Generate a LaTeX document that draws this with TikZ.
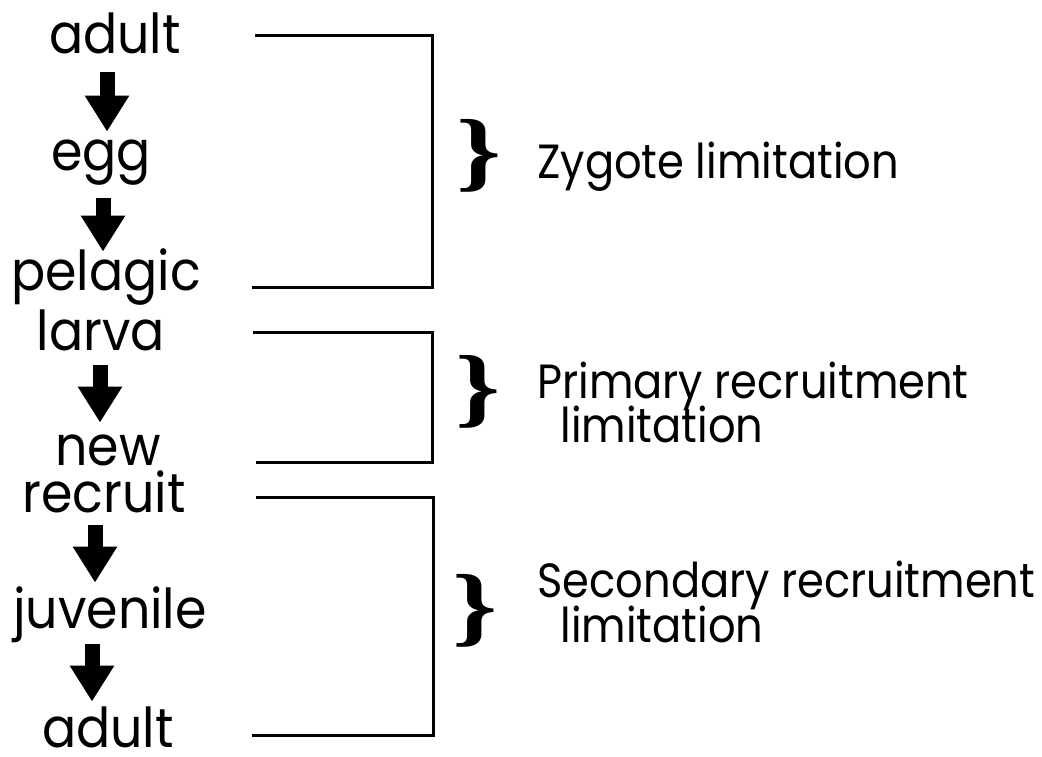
\documentclass[tikz,border=0pt]{standalone}
\usepackage{fontspec}
\setmainfont{Poppins}
\newfontfamily\stagefont[FakeStretch=0.92]{Poppins}
\newfontfamily\causefont[FakeStretch=0.9]{Poppins}
\newfontfamily\bracefont{Liberation Serif}
\usetikzlibrary{arrows.meta}
\tikzset{
  stage/.style={font=\stagefont\fontsize{27.5}{30}\selectfont, inner sep=0pt,
    text height=19pt, text depth=0pt, anchor=base},
  cause/.style={font=\causefont\fontsize{24}{28}\selectfont, inner sep=0pt, anchor=base west},
  curly/.style={font=\bracefont\bfseries\fontsize{44}{44}\selectfont, inner sep=0pt},
  flow/.style={line width=7.5pt, -{Triangle[width=21pt,length=18pt]}},
  span/.style={line width=1.5pt, line cap=butt, line join=miter}
}
\begin{document}
\begin{tikzpicture}[x=0.5pt,y=-0.5pt]
\useasboundingbox (0,0) rectangle (1042,756);

% life-cycle stages
\node[stage] (a1) at (115,53) {adult};
\node[stage] (egg) at (101,170) {egg};
\node[stage] (pel) at (106,290) {pelagic};
\node[stage] (lar) at (101,350) {larva};
\node[stage] (new) at (108,465) {new};
\node[stage] (rec) at (104,512) {recruit};
\node[stage] (juv) at (110,628) {juvenile};
\node[stage] (a2) at (108,747) {adult};

% transitions
\draw[flow, shorten <=9.5pt] (107,0 |- a1.south) -- (107,0 |- egg.north);
\draw[flow, shorten <=14pt] (103,0 |- egg.south) -- (103,0 |- pel.north);
\draw[flow, shorten <=7.5pt, shorten >=2pt] (100,0 |- lar.south) -- (100,0 |- new.north);
\draw[flow, shorten <=6.5pt, shorten >=3.5pt] (95,0 |- rec.south) -- (95,0 |- juv.north);
\draw[flow, shorten <=8pt, shorten >=3.5pt] (92,0 |- juv.south) -- (92,0 |- a2.north);

% square brackets grouping the stages
\draw[span] (255,35) -- (432,35) -- (432,287) -- (252,287);
\draw[span] (253,332) -- (432,332) -- (432,462) -- (256,462);
\draw[span] (256,497) -- (433,497) -- (433,735) -- (252,735);

% braces and names of the limitations
\node[curly] (b1) at (479,156) {\scalebox{1.3}[1]{\}}};
\node[curly] (b2) at (478,392) {\scalebox{1.3}[1]{\}}};
\node[curly] (b3) at (475,611) {\scalebox{1.3}[1]{\}}};

\node[cause] (zl) at (537,178) {Zygote limitation};
\node[cause] (pr1) at (537,398) {Primary recruitment};
\node[cause] (pr2) at (560,442) {limitation};
\node[cause] (sr1) at (537,597) {Secondary recruitment};
\node[cause] (sr2) at (560,642) {limitation};
\end{tikzpicture}
\end{document}
